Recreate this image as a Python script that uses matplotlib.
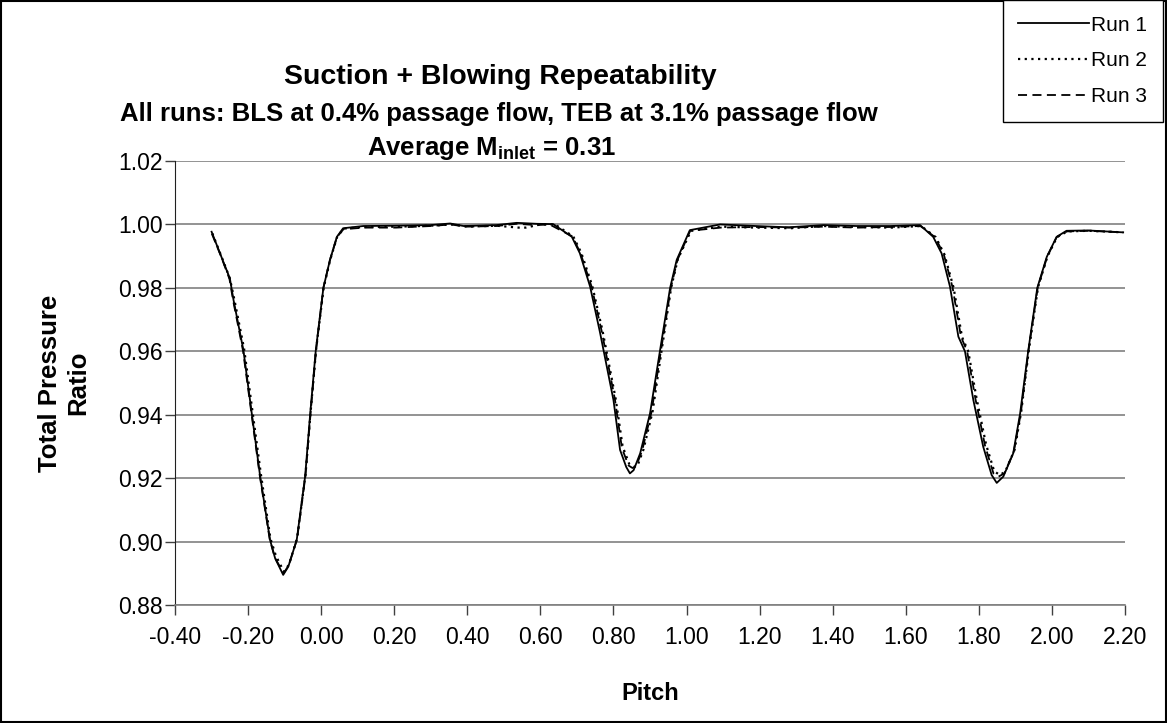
import matplotlib
matplotlib.use("Agg")
import matplotlib.pyplot as plt
from matplotlib.patches import Rectangle

plt.rcParams['font.family'] = ['Liberation Sans', 'DejaVu Sans']
plt.rcParams['mathtext.fontset'] = 'custom'
plt.rcParams['mathtext.rm'] = 'Liberation Sans'
plt.rcParams['mathtext.bf'] = 'Liberation Sans:bold'

# Run 1 (solid)
pitch_1 = [-0.300, -0.277, -0.250, -0.240, -0.213, -0.190, -0.167, -0.140, -0.126, -0.104,
           -0.090, -0.067, -0.044, -0.030, -0.015, 0.006, 0.024, 0.043, 0.060, 0.115,
           0.200, 0.300, 0.353, 0.390, 0.480, 0.535, 0.590, 0.635, 0.686, 0.708,
           0.736, 0.763, 0.800, 0.818, 0.835, 0.845, 0.855, 0.873, 0.900, 0.927,
           0.955, 0.973, 1.009, 1.092, 1.190, 1.280, 1.375, 1.466, 1.557, 1.639,
           1.675, 1.698, 1.721, 1.744, 1.762, 1.785, 1.812, 1.835, 1.849, 1.867,
           1.894, 1.913, 1.935, 1.960, 1.986, 2.013, 2.040, 2.100, 2.195]
ratio_1 = [0.9977, 0.9909, 0.9830, 0.9762, 0.9604, 0.9404, 0.9205, 0.9005, 0.8947, 0.8895,
           0.8921, 0.9005, 0.9205, 0.9404, 0.9601, 0.9800, 0.9888, 0.9961, 0.9988, 0.9995,
           0.9996, 0.9998, 1.0003, 0.9995, 0.9998, 1.0005, 1.0002, 1.0001, 0.9961, 0.9909,
           0.9804, 0.9660, 0.9446, 0.9289, 0.9235, 0.9215, 0.9225, 0.9278, 0.9404, 0.9600,
           0.9800, 0.9888, 0.9982, 1.0000, 0.9995, 0.9991, 0.9998, 0.9995, 0.9995, 0.9998,
           0.9961, 0.9909, 0.9804, 0.9646, 0.9600, 0.9446, 0.9299, 0.9210, 0.9185, 0.9205,
           0.9278, 0.9404, 0.9600, 0.9800, 0.9898, 0.9961, 0.9980, 0.9981, 0.9975]

# Run 2 (dotted)
pitch_2 = [-0.298, -0.275, -0.250, -0.238, -0.211, -0.188, -0.165, -0.139, -0.124, -0.102,
           -0.088, -0.066, -0.043, -0.029, -0.014, 0.007, 0.025, 0.044, 0.062, 0.120,
           0.210, 0.300, 0.360, 0.400, 0.480, 0.540, 0.560, 0.600, 0.640, 0.690,
           0.712, 0.742, 0.770, 0.806, 0.825, 0.843, 0.855, 0.866, 0.882, 0.907,
           0.932, 0.958, 0.976, 1.012, 1.095, 1.190, 1.285, 1.375, 1.470, 1.560,
           1.642, 1.682, 1.706, 1.731, 1.754, 1.771, 1.794, 1.820, 1.842, 1.857,
           1.872, 1.898, 1.916, 1.937, 1.962, 1.988, 2.014, 2.042, 2.100, 2.195]
ratio_2 = [0.9972, 0.9905, 0.9830, 0.9765, 0.9608, 0.9410, 0.9212, 0.9010, 0.8955, 0.8905,
           0.8928, 0.9010, 0.9210, 0.9408, 0.9605, 0.9802, 0.9890, 0.9962, 0.9987, 0.9992,
           0.9993, 0.9996, 1.0000, 0.9993, 0.9996, 0.9990, 0.9990, 1.0000, 1.0000, 0.9962,
           0.9910, 0.9806, 0.9665, 0.9450, 0.9300, 0.9245, 0.9235, 0.9240, 0.9290, 0.9410,
           0.9605, 0.9802, 0.9890, 0.9980, 0.9993, 0.9990, 0.9988, 0.9995, 0.9992, 0.9990,
           0.9995, 0.9960, 0.9905, 0.9800, 0.9645, 0.9600, 0.9450, 0.9305, 0.9222, 0.9210,
           0.9220, 0.9290, 0.9410, 0.9605, 0.9802, 0.9900, 0.9960, 0.9978, 0.9980, 0.9975]

# Run 3 (dashed)
pitch_3 = [-0.299, -0.276, -0.251, -0.241, -0.214, -0.191, -0.168, -0.141, -0.127, -0.103,
           -0.089, -0.066, -0.043, -0.029, -0.014, 0.006, 0.024, 0.043, 0.061, 0.118,
           0.205, 0.300, 0.355, 0.395, 0.480, 0.535, 0.590, 0.625, 0.688, 0.710,
           0.740, 0.768, 0.804, 0.823, 0.841, 0.852, 0.862, 0.878, 0.904, 0.930,
           0.957, 0.975, 1.010, 1.093, 1.190, 1.282, 1.375, 1.468, 1.558, 1.640,
           1.680, 1.704, 1.728, 1.751, 1.768, 1.791, 1.817, 1.840, 1.854, 1.870,
           1.896, 1.915, 1.936, 1.961, 1.987, 2.013, 2.041, 2.100, 2.195]
ratio_3 = [0.9970, 0.9905, 0.9828, 0.9760, 0.9602, 0.9405, 0.9207, 0.9008, 0.8950, 0.8900,
           0.8925, 0.9008, 0.9208, 0.9406, 0.9603, 0.9800, 0.9888, 0.9960, 0.9985, 0.9990,
           0.9990, 0.9995, 1.0000, 0.9993, 0.9995, 1.0002, 0.9998, 1.0000, 0.9962, 0.9908,
           0.9804, 0.9662, 0.9448, 0.9295, 0.9240, 0.9232, 0.9238, 0.9285, 0.9408, 0.9603,
           0.9800, 0.9888, 0.9980, 0.9990, 0.9992, 0.9990, 0.9993, 0.9990, 0.9992, 0.9995,
           0.9960, 0.9906, 0.9802, 0.9646, 0.9600, 0.9448, 0.9302, 0.9215, 0.9205, 0.9215,
           0.9285, 0.9406, 0.9603, 0.9800, 0.9898, 0.9960, 0.9978, 0.9980, 0.9975]

x_ticks = [-0.4, -0.2, 0.0, 0.2, 0.4, 0.6, 0.8, 1.0, 1.2, 1.4, 1.6, 1.8, 2.0, 2.2]
y_ticks = [0.88, 0.90, 0.92, 0.94, 0.96, 0.98, 1.00, 1.02]

fig = plt.figure(figsize=(11.67, 7.23), dpi=100)
ax = fig.add_axes([0.15, 0.1632, 0.814, 0.6141])

ax.plot(pitch_1, ratio_1, color='black', lw=1.3, linestyle='-', label='Run 1')
ax.plot(pitch_2, ratio_2, color='black', lw=1.6, linestyle=(0, (1, 2)), label='Run 2')
ax.plot(pitch_3, ratio_3, color='black', lw=1.3, linestyle=(0, (5, 3)), label='Run 3')

ax.set_xlim(-0.4, 2.2)
ax.set_ylim(0.88, 1.02)
ax.set_xticks(x_ticks)
ax.set_xticklabels([f"{t:.2f}" for t in x_ticks])
ax.set_yticks(y_ticks)
ax.set_yticklabels([f"{t:.2f}" for t in y_ticks])
ax.tick_params(labelsize=16.5, direction='out', length=7, width=1, color='#404040')
ax.tick_params(axis='y', pad=2)
ax.tick_params(axis='x', pad=8)
ax.yaxis.grid(True, color='#808080', lw=1.2)
ax.set_axisbelow(True)
for s in ['top', 'right']:
    ax.spines[s].set_visible(False)
ax.spines['left'].set_color('#202020')
ax.spines['bottom'].set_color('#808080')
ax.spines['bottom'].set_linewidth(1.2)

ax.set_xlabel('Pitch', fontsize=17, fontweight='bold', labelpad=24)
ax.set_ylabel('Total Pressure\nRatio', fontsize=18.5, fontweight='bold', labelpad=20)

fig.text(500 / 1167, 1 - 77 / 723, 'Suction + Blowing Repeatability', ha='center', va='center',
         fontsize=20.5, fontweight='bold')
fig.text(499 / 1167, 1 - 114 / 723, 'All runs: BLS at 0.4% passage flow, TEB at 3.1% passage flow',
         ha='center', va='center', fontsize=18.5, fontweight='bold')
fig.text(492 / 1167, 1 - 148 / 723, r'Average M$_{\mathbf{inlet}}$ = 0.31', ha='center', va='center',
         fontsize=18.5, fontweight='bold')

leg = fig.legend(loc='upper right', bbox_to_anchor=(1163 / 1167, 1.0), fontsize=15,
                 frameon=True, fancybox=False, edgecolor='black', framealpha=1,
                 handlelength=3.4, handletextpad=0.1, borderpad=0.75, labelspacing=0.8,
                 borderaxespad=0)
leg.get_frame().set_linewidth(1)

fig.patches.append(Rectangle((0.001, 0.001), 0.998, 0.997, transform=fig.transFigure,
                             fill=False, edgecolor='black', lw=1.5))

fig.savefig('out.png', dpi=100)
